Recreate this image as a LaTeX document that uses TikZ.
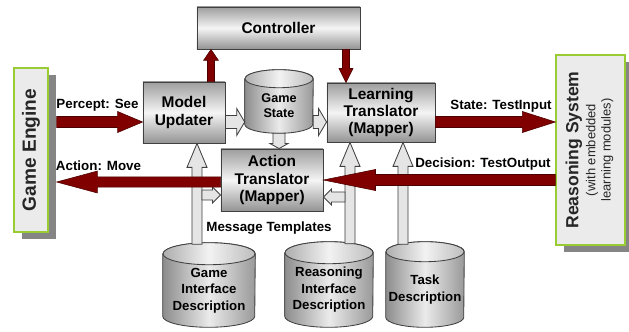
\documentclass[tikz,border=0pt]{standalone}
\usepackage{fontspec}
\setmainfont{Liberation Sans}
\usepackage{xcolor}
\usetikzlibrary{calc}
\usetikzlibrary{shadows}
\usetikzlibrary{backgrounds}

\definecolor{figmaroon}{HTML}{800000}
\definecolor{figgreen}{HTML}{99CC33}
\definecolor{figpanel}{HTML}{EBEBEB}

\begin{document}
\begin{tikzpicture}[x=0.025cm,y=-0.025cm,
    modulebox/.style={draw=black!75,line width=0.6pt,top color=black!38,bottom color=black!42,middle color=black!4,align=center,inner sep=0pt,font=\bfseries\fontsize{11}{12.4}\selectfont},
    sidebox/.style={draw=figgreen,line width=0.9pt,fill=figpanel,inner sep=0pt,text=black!85,drop shadow={shadow xshift=0.2cm,shadow yshift=-0.17cm,fill=black!48,opacity=1}},
    storebody/.style={align=center,inner sep=0pt,font=\bfseries\fontsize{9.4}{11.7}\selectfont},
    storeline/.style={draw=black!75,line width=0.6pt},
    flowlabel/.style={font=\bfseries\fontsize{9.5}{11}\selectfont,inner sep=0pt},
    msgarrow/.style={fill=figmaroon,draw=figmaroon!60!black,line width=0.4pt},
    dataarrow/.style={fill=black!10,draw=black!75,line width=0.6pt}]
    \newcommand{\figflowarrow}[6]{%
        \coordinate (figbase) at ($(#3)!#6!(#2)$);
        \draw[#1] ($(#2)!#4!90:(#3)$) -- ($(figbase)!#4!90:(#3)$) -- ($(figbase)!#5!90:(#3)$) -- (#3) -- ($(figbase)!#5!-90:(#3)$) -- ($(figbase)!#4!-90:(#3)$) -- ($(#2)!#4!-90:(#3)$) -- cycle;
    }
    \newcommand{\figstore}[3]{%
        \path[storeline,left color=black!45,right color=black!40,middle color=black!8] (#1.north west) -- ($(#1.south west)+(0,#3)$) arc[start angle=180,end angle=360,x radius=#2,y radius=#3] -- (#1.north east) arc[start angle=0,end angle=180,x radius=#2,y radius=#3] -- cycle;
        \path[storeline,left color=black!32,right color=black!26,middle color=black!5] (#1.north) ellipse[x radius=#2,y radius=#3];
    }
    \useasboundingbox (0,0) rectangle (629,331);
    \node[sidebox,minimum width=0.85cm,minimum height=4.1cm] (engine) at (31,150) {\rotatebox{90}{\fontsize{13.6}{16}\selectfont\bfseries Game Engine}};
    \node[sidebox,minimum width=1.725cm,minimum height=4.75cm] (reason) at (590.5,150) {\rotatebox{90}{\fontsize{9.2}{11}\selectfont\begin{tabular}{@{}c@{}}{\fontsize{12.5}{14}\selectfont\bfseries Reasoning System}\\[1pt] (with embedded\\ learning modules)\end{tabular}}};
    \node[modulebox,minimum width=4.075cm,minimum height=1.05cm] (ctrl) at (278.5,28) {Controller};
    \node[modulebox,minimum width=2.05cm,minimum height=1.525cm] (model) at (184,112.5) {Model\\Updater};
    \node[modulebox,minimum width=2.7cm,minimum height=1.475cm] (learn) at (381,112.5) {Learning\\Translator\\(Mapper)};
    \node[modulebox,minimum width=2.55cm,minimum height=1.55cm] (act) at (272,180) {Action\\Translator\\(Mapper)};
    \node[storebody,minimum width=1.7cm,minimum height=1.35cm,font=\bfseries\fontsize{9}{10.8}\selectfont] (gstate) at (279,106) {Game\\State};
    \node[storebody,minimum width=2.3cm,minimum height=1.825cm] (gid) at (209,290.5) {Game\\Interface\\Description};
    \node[storebody,minimum width=2.2cm,minimum height=1.85cm] (rid) at (329,290) {Reasoning\\Interface\\Description};
    \node[storebody,minimum width=1.95cm,minimum height=1.875cm] (tdesc) at (425,289.5) {Task\\Description};
    \begin{scope}[on background layer]
        \figstore{gstate}{0.85cm}{0.225cm}
        \figstore{gid}{1.15cm}{0.275cm}
        \figstore{rid}{1.1cm}{0.275cm}
        \figstore{tdesc}{0.975cm}{0.25cm}
    \end{scope}
    \node[flowlabel] (perceptlbl) at (97.5,105) {Percept: See};
    \node[flowlabel] (movelbl) at (98.5,166) {Action: Move};
    \node[flowlabel] (statelbl) at (501,106.5) {State: TestInput};
    \node[flowlabel] (decisionlbl) at (483,164.5) {Decision: TestOutput};
    \node[flowlabel] (templatelbl) at (269,228) {Message Templates};
    \coordinate (modelout) at ($(model.east)+(0,9.5)$);
    \coordinate (gstatein) at (gstate.west |- modelout);
    \coordinate (learnin) at ($(learn.west)+(0,9.5)$);
    \coordinate (gstateout) at (gstate.east |- learnin);
    \coordinate (actin) at (act.north -| gstate.south);
    \coordinate (gidup) at ($(model.south)+(13,0)$);
    \coordinate (gidout) at ($(gid.north -| gidup)+(0,-9.5)$);
    \coordinate (actleft) at ($(act.west)+(0,15)$);
    \coordinate (gidbranch) at ($(gidup |- actleft)+(5,0)$);
    \coordinate (ridup) at ($(learn.south)+(-31,0)$);
    \coordinate (ridout) at ($(rid.north -| ridup)+(0,-9)$);
    \coordinate (actright) at ($(act.east)+(0,17)$);
    \coordinate (ridbranch) at ($(ridup |- actright)+(-5,0)$);
    \coordinate (taskup) at ($(learn.south)+(22,0)$);
    \coordinate (taskout) at ($(tdesc.north -| taskup)+(0,-7.5)$);
    \figflowarrow{dataarrow}{modelout}{gstatein}{4.6pt}{9.6pt}{5.7pt}
    \figflowarrow{dataarrow}{gstateout}{learnin}{4.6pt}{9.6pt}{5.7pt}
    \figflowarrow{dataarrow}{gstate.south}{actin}{4.3pt}{6.4pt}{3.6pt}
    \figflowarrow{dataarrow}{gidout}{gidup}{3.6pt}{7.1pt}{17pt}
    \figflowarrow{dataarrow}{gidbranch}{actleft}{3.6pt}{5.7pt}{5.7pt}
    \figflowarrow{dataarrow}{ridout}{ridup}{3.6pt}{7.1pt}{17pt}
    \figflowarrow{dataarrow}{ridbranch}{actright}{3.6pt}{5.7pt}{5.7pt}
    \figflowarrow{dataarrow}{taskout}{taskup}{3.6pt}{7.1pt}{17pt}
    \coordinate (perceptin) at ($(model.west)+(0,9.5)$);
    \coordinate (perceptout) at ($(engine.east |- perceptin)+(8,0)$);
    \coordinate (ctrlin) at ($(model.north)+(27,0)$);
    \coordinate (ctrlup) at (ctrl.south -| ctrlin);
    \coordinate (learntop) at ($(learn.north)+(-35,0)$);
    \coordinate (ctrldown) at (ctrl.south -| learntop);
    \coordinate (stateout) at ($(learn.east)+(0,9.5)$);
    \coordinate (statein) at (reason.west |- stateout);
    \coordinate (decisionout) at (reason.west |- act.east);
    \coordinate (moveout) at ($(act.west)+(0,2)$);
    \coordinate (movein) at ($(engine.east |- moveout)+(8,0)$);
    \figflowarrow{msgarrow}{perceptout}{perceptin}{3.9pt}{7.5pt}{17.8pt}
    \figflowarrow{msgarrow}{ctrlin}{ctrlup}{2.5pt}{5.3pt}{7.8pt}
    \figflowarrow{msgarrow}{ctrldown}{learntop}{2.5pt}{5pt}{10pt}
    \figflowarrow{msgarrow}{stateout}{statein}{3.9pt}{7.5pt}{23.5pt}
    \figflowarrow{msgarrow}{decisionout}{act.east}{3.9pt}{7.5pt}{37pt}
    \figflowarrow{msgarrow}{moveout}{movein}{3.6pt}{7.8pt}{29pt}
\end{tikzpicture}
\end{document}
